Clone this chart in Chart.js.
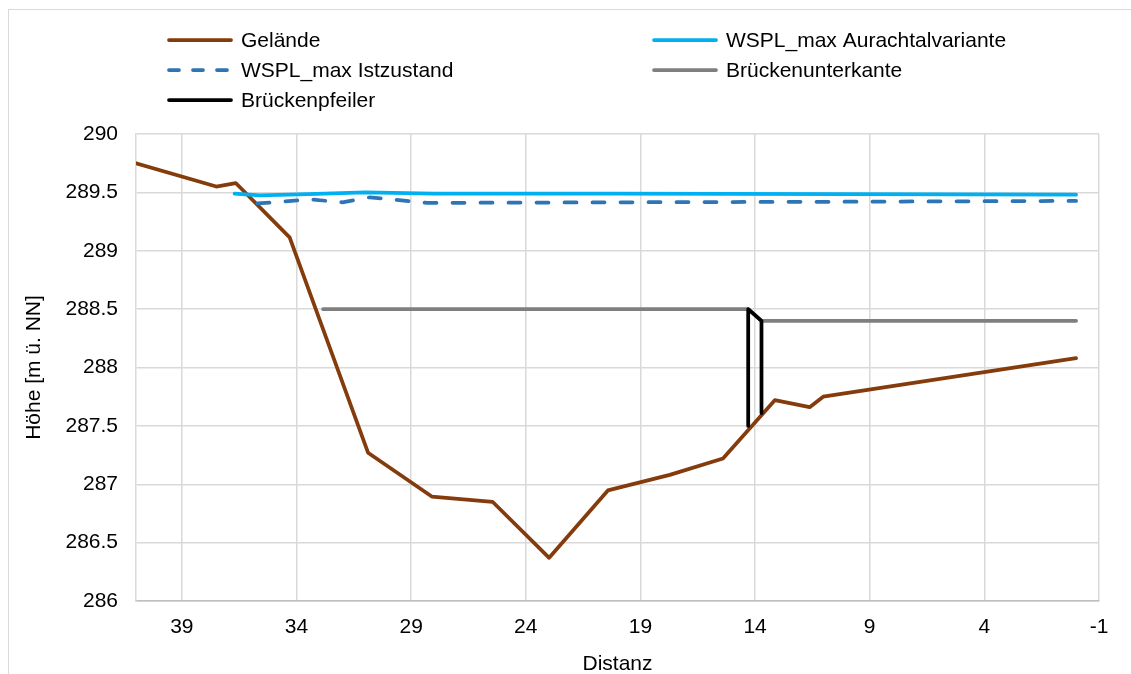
<!DOCTYPE html>
<html>
<head>
<meta charset="utf-8">
<script src="https://cdn.jsdelivr.net/npm/chart.js@4/dist/chart.umd.min.js"></script>
<style>
  html, body { margin: 0; padding: 0; background: #fff; overflow: hidden; }
  #wrap { position: relative; width: 1131px; height: 674px; }
  #frame { position: absolute; left: 8px; top: 9px; width: 1200px; height: 700px; border: 1px solid #D9D9D9; box-sizing: border-box; }
  canvas { position: absolute; left: 0; top: 0; }
</style>
</head>
<body>
<div id="wrap">
  <div id="frame"></div>
  <canvas id="profile-chart" width="1131" height="674"></canvas>
</div>
<script>
// Querprofil data (Distanz / Höhe)
const xTicks = [-1, 4, 9, 14, 19, 24, 29, 34, 39];
const yTicks = [286, 286.5, 287, 287.5, 288, 288.5, 289, 289.5, 290];

const geländeX = [41, 37.5, 36.65, 34.3, 30.88, 28.1, 25.45, 22.98, 20.42, 17.72, 15.4, 13.14, 11.62, 11.03, 0];
const geländeY = [289.75, 289.55, 289.58, 289.115, 287.27, 286.895, 286.85, 286.37, 286.947, 287.08, 287.22, 287.72, 287.66, 287.75, 288.08];

const aurachX = [36.7, 35.6, 33.5, 31.0, 28, 20, 10, 0];
const aurachY = [289.49, 289.475, 289.485, 289.5, 289.49, 289.49, 289.485, 289.48];

const istX = [35.7, 33.4, 32.0, 30.8, 28.3, 20, 10, 0];
const istY = [289.405, 289.44, 289.415, 289.458, 289.41, 289.415, 289.42, 289.427];

const unterkanteX = [32.84, 14.3, 13.72, 0];
const unterkanteY = [288.5, 288.5, 288.4, 288.4];

const pfeilerX = [14.3, 14.3, 13.72, 13.72];
const pfeilerY = [287.5, 288.5, 288.4, 287.61];

const FONT = "'Liberation Sans', Arial, sans-serif";

function toPoints(xs, ys) {
    return xs.map((x, i) => ({ x: x, y: ys[i] }));
}

function lineSet(label, xs, ys, color, order, dash) {
    return {
        label: label,
        data: toPoints(xs, ys),
        borderColor: color,
        backgroundColor: color,
        borderWidth: 3.75,
        borderDash: dash || [],
        borderCapStyle: 'round',
        borderJoinStyle: 'round',
        pointRadius: 0,
        showLine: true,
        tension: 0,
        order: order
    };
}

// Legend in two columns, drawn on the canvas
const legendLayout = [
    { x: 167, y: 40 }, { x: 652, y: 40 },
    { x: 167, y: 70 }, { x: 652, y: 70 },
    { x: 167, y: 100 }
];

const columnLegend = {
    id: 'columnLegend',
    afterDraw(chart) {
        const ctx = chart.ctx;
        ctx.save();
        ctx.font = '21px ' + FONT;
        ctx.textBaseline = 'middle';
        ctx.fillStyle = '#000';
        chart.data.datasets.forEach((ds, i) => {
            const pos = legendLayout[i];
            ctx.strokeStyle = ds.borderColor;
            ctx.lineWidth = 3.75;
            ctx.lineCap = 'round';
            ctx.setLineDash(ds.borderDash.length ? [10, 14] : []);
            ctx.beginPath();
            ctx.moveTo(pos.x + 2, pos.y);
            ctx.lineTo(pos.x + 64, pos.y);
            ctx.stroke();
            ctx.setLineDash([]);
            ctx.fillText(ds.label, pos.x + 74, pos.y + 1);
        });
        ctx.restore();
    }
};

const ctx = document.getElementById('profile-chart').getContext('2d');
new Chart(ctx, {
    type: 'line',
    data: {
        datasets: [
            lineSet('Gelände', geländeX, geländeY, '#843C0C', 4),
            lineSet('WSPL_max Aurachtalvariante', aurachX, aurachY, '#00B0F0', 3),
            lineSet('WSPL_max Istzustand', istX, istY, '#2E75B6', 2, [12, 16]),
            lineSet('Brückenunterkante', unterkanteX, unterkanteY, '#7F7F7F', 1),
            lineSet('Brückenpfeiler', pfeilerX, pfeilerY, '#000000', 0)
        ]
    },
    options: {
        responsive: false,
        animation: false,
        layout: { padding: { top: 134, right: 32, bottom: 0, left: 0 } },
        plugins: {
            legend: { display: false },
            tooltip: { enabled: false }
        },
        scales: {
            x: {
                type: 'linear',
                reverse: true,
                min: -1,
                max: 41,
                afterBuildTicks: function(scale) {
                    scale.ticks = xTicks.map(v => ({ value: v }));
                },
                afterFit: function(scale) { scale.height = 73; },
                grid: { color: '#D9D9D9', lineWidth: 1.5, drawTicks: false },
                border: { display: true, color: '#BFBFBF', width: 1.5 },
                ticks: {
                    padding: 14,
                    color: '#000',
                    font: { family: FONT, size: 21 },
                    maxRotation: 0,
                    autoSkip: false,
                    callback: function(value) { return String(value); }
                },
                title: {
                    display: true,
                    text: 'Distanz',
                    color: '#000',
                    font: { family: FONT, size: 21 },
                    padding: { top: 0, bottom: -3 }
                }
            },
            y: {
                type: 'linear',
                min: 286,
                max: 290,
                afterBuildTicks: function(scale) {
                    scale.ticks = yTicks.map(v => ({ value: v }));
                },
                afterFit: function(scale) { scale.width = 136; },
                grid: { color: '#D9D9D9', lineWidth: 1.5, drawTicks: false },
                border: { display: true, color: '#D9D9D9', width: 1.5 },
                ticks: {
                    padding: 18,
                    color: '#000',
                    font: { family: FONT, size: 21 },
                    callback: function(value) { return String(value); }
                },
                title: {
                    display: true,
                    text: 'Höhe [m ü. NN]',
                    color: '#000',
                    font: { family: FONT, size: 21 },
                    padding: { top: 22, bottom: 4 }
                }
            }
        }
    },
    plugins: [columnLegend]
});
</script>
</body>
</html>
